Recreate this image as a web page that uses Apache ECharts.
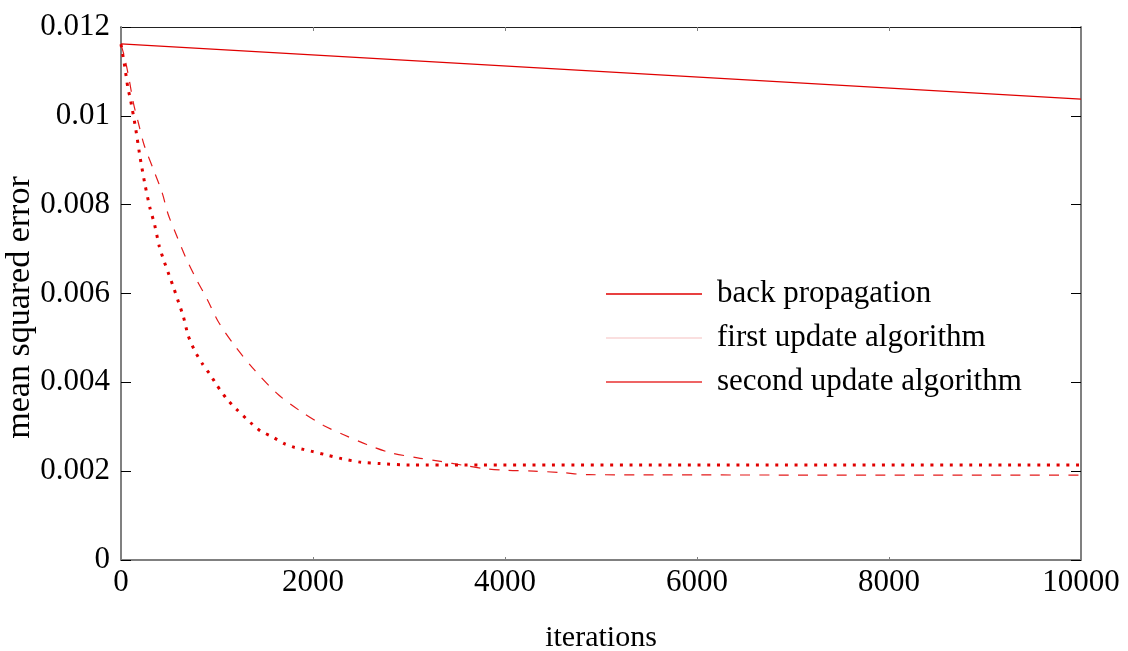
<!DOCTYPE html>
<html>
<head>
<meta charset="utf-8">
<script src="https://cdn.jsdelivr.net/npm/echarts@6/dist/echarts.min.js"></script>
<style>
  html, body { margin: 0; padding: 0; background: #fff; }
  #chart { width: 1128px; height: 651px; }
</style>
</head>
<body>
<div id="chart"></div>
<script>
// Training error curves: mean squared error against iteration count
const seriesNames = ['back propagation', 'first update algorithm', 'second update algorithm'];

const backPropIter = [0, 10000];
const backPropMse  = [0.01162, 0.010375];

const firstIter = [0, 45, 90, 130, 180, 240, 340, 430, 490, 580, 670, 780, 900, 1020, 1190, 1390,
  1640, 1870, 2110, 2320, 2560, 2800, 3090, 3330, 3570, 3780, 4020, 4300, 4580, 4870, 10000];
const firstMse = [0.01161, 0.01125, 0.01076, 0.01028, 0.00985, 0.00935, 0.00878, 0.00826, 0.00779,
  0.00730, 0.00683, 0.00634, 0.00586, 0.00534, 0.00481, 0.00428, 0.00372, 0.00335, 0.00303, 0.00282,
  0.00260, 0.00242, 0.00230, 0.00222, 0.00213, 0.00206, 0.00202, 0.00200, 0.00197, 0.00192, 0.00191];

const secondIter = [0, 40, 70, 100, 150, 200, 250, 300, 350, 400, 450, 500, 550, 600, 650, 700, 770,
  850, 930, 1000, 1100, 1200, 1350, 1450, 1570, 1700, 1800, 1900, 2000, 2150, 2300, 2500, 2700, 3000, 10000];
const secondMse = [0.01161, 0.01110, 0.01065, 0.01035, 0.00975, 0.00905, 0.00845, 0.00794, 0.00755,
  0.00705, 0.00672, 0.00642, 0.00612, 0.00580, 0.00548, 0.00505, 0.00470, 0.00441, 0.00417, 0.00393,
  0.00363, 0.00340, 0.00309, 0.00291, 0.00278, 0.00262, 0.00254, 0.00249, 0.00244, 0.00236, 0.00228,
  0.00220, 0.00217, 0.00214, 0.00214];

const xTickLabels = ['0', '2000', '4000', '6000', '8000', '10000'];
const yTickLabels = ['0', '0.002', '0.004', '0.006', '0.008', '0.01', '0.012'];

const pair = (xs, ys) => xs.map((x, i) => [x, ys[i]]);

const FONT = '"Liberation Serif", "DejaVu Serif", serif';
const RED = '#e00000';
const GREY = '#808080';

const chart = echarts.init(document.getElementById('chart'), null, { renderer: 'canvas' });

function yAxisDef(pos) {
  return {
    type: 'value', min: 0, max: 0.012, interval: 0.002, position: pos,
    splitLine: { show: false },
    axisLine: { show: true, onZero: false, lineStyle: { color: GREY, width: 2 } },
    axisTick: { show: true, inside: true, length: 10, lineStyle: { color: '#000', width: 1 } }
  };
}

const yLeft = yAxisDef('left');
yLeft.name = 'mean squared error';
yLeft.nameLocation = 'middle';
yLeft.nameGap = 84;
yLeft.nameMoveOverlap = false;
yLeft.nameRotate = 90;
yLeft.nameTextStyle = { fontFamily: FONT, fontSize: 34, color: '#000', padding: [0, 28, 0, 0] };
yLeft.axisLabel = {
  margin: 11, fontFamily: FONT, fontSize: 31, color: '#000',
  formatter: v => yTickLabels[Math.round(v / 0.002)]
};

const yRight = yAxisDef('right');
yRight.axisLabel = { show: false };

chart.setOption({
  animation: false,
  backgroundColor: '#fff',
  grid: { left: 121, right: 47, top: 27, bottom: 91, containLabel: false, outerBoundsMode: 'none' },
  xAxis: [
    {
      type: 'value', min: 0, max: 10000, interval: 2000, position: 'bottom',
      name: 'iterations', nameLocation: 'middle', nameGap: 63,
      nameTextStyle: { fontFamily: FONT, fontSize: 30, color: '#000' },
      splitLine: { show: false },
      axisLine: { show: true, onZero: false, lineStyle: { color: GREY, width: 2 } },
      axisTick: { show: true, inside: true, length: 3, lineStyle: { color: GREY, width: 1 } },
      axisLabel: {
        margin: 7, fontFamily: FONT, fontSize: 31, color: '#000',
        formatter: v => xTickLabels[Math.round(v / 2000)]
      }
    },
    {
      type: 'value', min: 0, max: 10000, interval: 2000, position: 'top',
      splitLine: { show: false },
      axisLine: { show: true, onZero: false, lineStyle: { color: '#222', width: 1 } },
      axisTick: { show: true, inside: true, length: 4, lineStyle: { color: GREY, width: 1 } },
      axisLabel: { show: false }
    }
  ],
  yAxis: [yLeft, yRight],
  legend: {
    orient: 'vertical', left: 601, top: 267,
    icon: 'rect', itemWidth: 96, itemHeight: 1.5, itemGap: 0,
    selectedMode: false,
    textStyle: { fontFamily: FONT, fontSize: 31, color: '#000', lineHeight: 44, padding: [0, 0, 0, 10] },
    data: [
      { name: seriesNames[0], itemStyle: { color: RED } },
      { name: seriesNames[1], itemStyle: { color: '#f8d4d4' } },
      { name: seriesNames[2], itemStyle: { color: '#e83030' } }
    ]
  },
  series: [
    {
      name: seriesNames[0], type: 'line', data: pair(backPropIter, backPropMse),
      showSymbol: false, symbol: 'none',
      lineStyle: { color: RED, width: 1.3 }, itemStyle: { color: RED }
    },
    {
      name: seriesNames[1], type: 'line', data: pair(firstIter, firstMse),
      showSymbol: false, symbol: 'none', smooth: 0.3,
      lineStyle: { color: '#e41a1a', width: 1.2, type: [10, 9.3] }, itemStyle: { color: '#e41a1a' }
    },
    {
      name: seriesNames[2], type: 'line', data: pair(secondIter, secondMse),
      showSymbol: false, symbol: 'none', smooth: 0.2,
      lineStyle: { color: RED, width: 3, type: [3, 6.7], cap: 'butt' }, itemStyle: { color: RED }
    }
  ]
});
</script>
</body>
</html>
